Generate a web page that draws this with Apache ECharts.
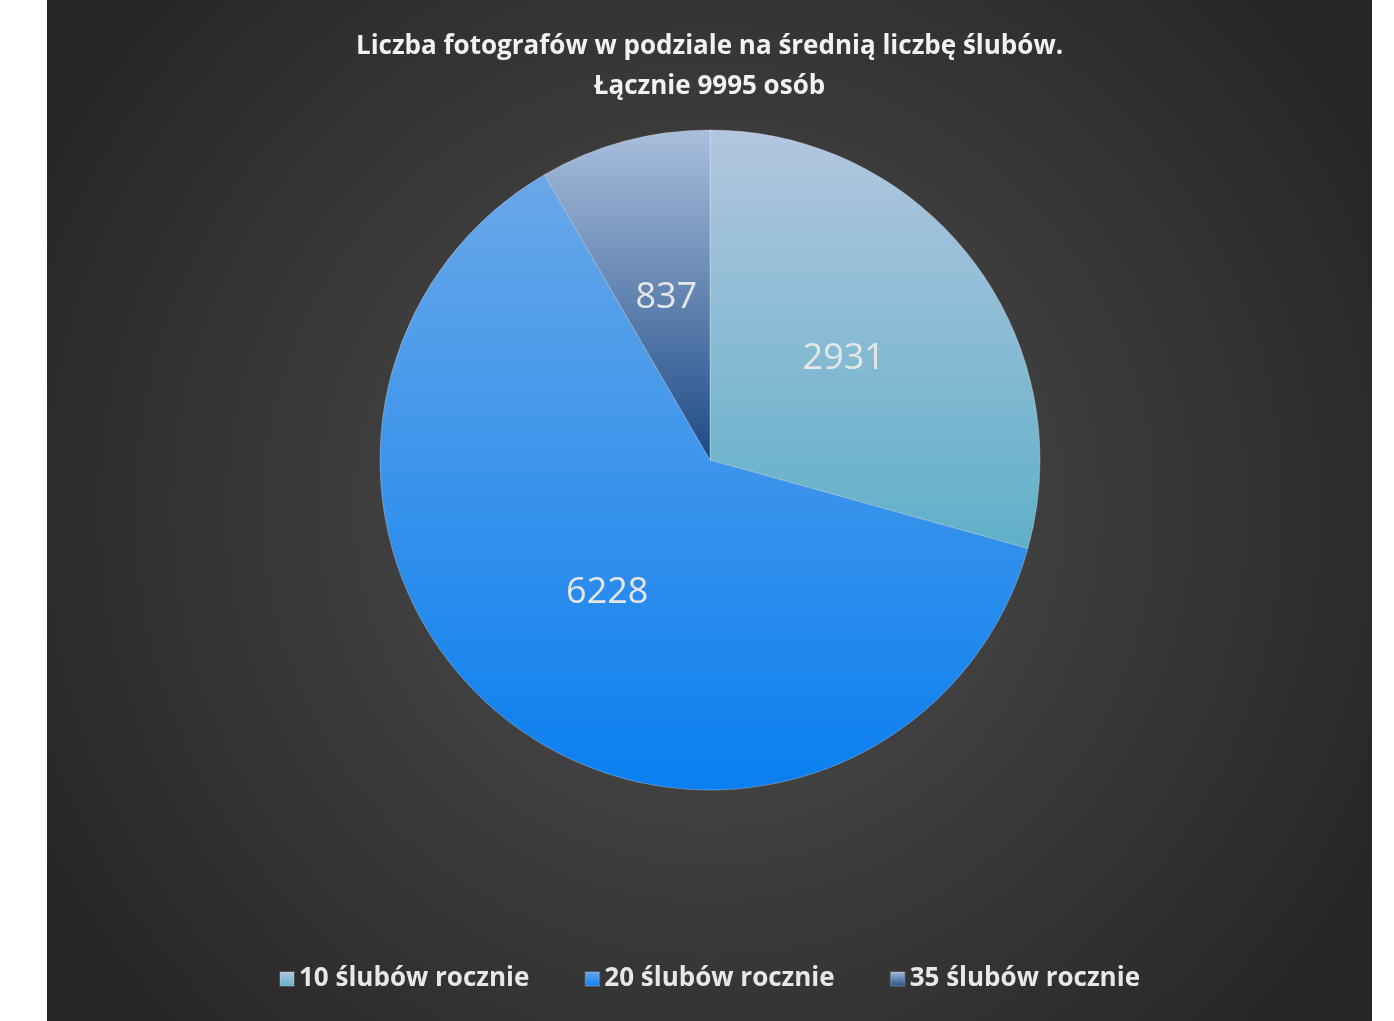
<!DOCTYPE html>
<html><head><meta charset="utf-8">
<script src="https://cdn.jsdelivr.net/npm/echarts@6/dist/echarts.min.js"></script>
<style>html,body{margin:0;background:#fff;}#c{position:absolute;left:47px;top:0;width:1325px;height:1021px;}</style>
</head><body><div id="c"></div>
<script>
const categories = ['10 ślubów rocznie','20 ślubów rocznie','35 ślubów rocznie'];
const values = [2931, 6228, 837];
const colors = [
  ['#b3c6e0','#5fb0c8'],
  ['#6aa8e8','#0a7ff0'],
  ['#a9bfdc','#1d4a86']
];
const chart = echarts.init(document.getElementById('c'));
chart.setOption({
  backgroundColor: {type:'radial',x:0.5,y:0.5,r:0.75,colorStops:[{offset:0,color:'#505050'},{offset:1,color:'#262626'}]},
  title: {text:'Liczba fotografów w podziale na średnią liczbę ślubów.\nŁącznie 9995 osób', left:'center', top:22,
    textStyle:{color:'#f2f2f2',fontSize:26,fontWeight:'bold',fontFamily:'Open Sans',lineHeight:40}},
  legend: {bottom:24, left:'center', itemGap:55, itemWidth:14, itemHeight:14, icon:'rect',
    textStyle:{color:'#e8e8e8',fontSize:26,fontWeight:'bold',fontFamily:'Open Sans'}, data:categories},
  series: [{
    type:'pie', center:[663,460], radius:[0,330], startAngle:90, clockwise:true,
    label:{position:'inside', formatter:'{c}', color:'#e6e6e6', fontSize:36, fontFamily:'Open Sans'},
    labelLine:{show:false},
    itemStyle:{borderColor:'rgba(255,255,255,0.15)',borderWidth:1},
    data: categories.map((n,i)=>({name:n,value:values[i],itemStyle:{color:{type:'linear',x:0,y:0,x2:0,y2:1,colorStops:[{offset:0,color:colors[i][0]},{offset:1,color:colors[i][1]}]}}}))
  }]
});
</script></body></html>
